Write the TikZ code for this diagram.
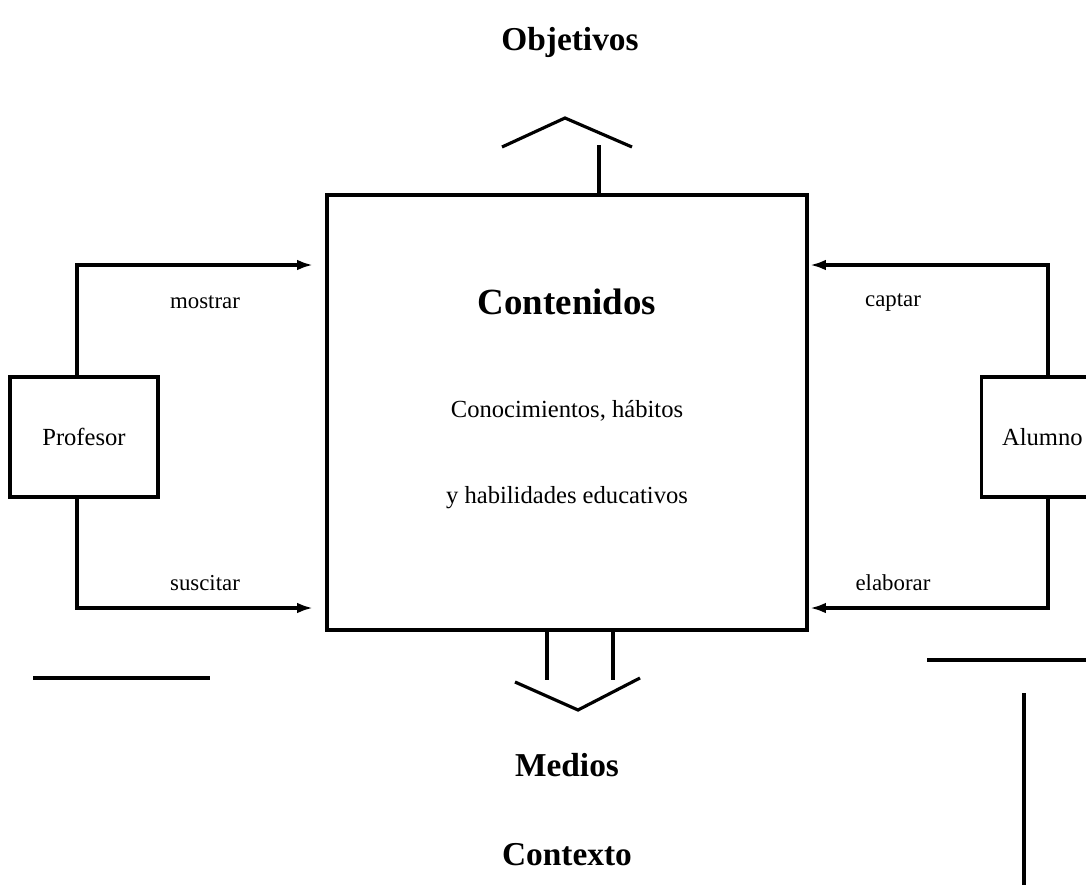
\documentclass[tikz,border=0pt]{standalone}
\usepackage{fontspec}
\setmainfont{Liberation Serif}
\usetikzlibrary{calc,positioning,arrows.meta}

\tikzset{
	caja/.style={draw,line width=1.8pt,inner sep=0pt},
	titulo/.style={font=\fontsize{19}{22}\selectfont\bfseries},
	verbo/.style={font=\fontsize{13}{15}\selectfont},
	flecha/.style={line width=1.8pt,-{Latex[length=9pt,width=6pt]}},
	linea/.style={line width=1.8pt}
}

\begin{document}
\begin{tikzpicture}[x=0.02cm,y=-0.02cm]
		\useasboundingbox (0,0) rectangle (1086,886);
		% bloque central
		\node[caja,minimum width=9.6cm,minimum height=8.7cm] (cont) at (567,412.5) {};
		\node[titulo,font=\fontsize{21}{24}\selectfont\bfseries] (tcont) at (567,302) {Contenidos};
		\node[font=\fontsize{14}{16}\selectfont] (conoc) at (567,411) {Conocimientos, hábitos};
		\node[font=\fontsize{14}{16}\selectfont] (habil) at (567,498) {y habilidades educativos};
		% objetivos y medios
		\node[titulo] (obj) at (570,42) {Objetivos};
		\node[titulo] (medios) at (567,765) {Medios};
		\node[titulo] (contexto) at (567,855) {Contexto};
		\coordinate (arr1) at (502,147);
		\coordinate (arr2) at (565,118);
		\coordinate (arr3) at (632,147);
		\draw[linea] (arr1) -- (arr2) -- (arr3);
		\draw[linea] (cont.north -| 599,0) -- (599,145);
		\coordinate (ab1) at (515,682);
		\coordinate (ab2) at (578,710);
		\coordinate (ab3) at (640,678);
		\draw[linea] (ab1) -- (ab2) -- (ab3);
		\draw[linea] (cont.south -| 547,0) -- (547,680);
		\draw[linea] (cont.south -| 613,0) -- (613,680);
		% profesor
		\node[caja,minimum width=2.96cm,minimum height=2.4cm,font=\fontsize{14}{16}\selectfont] (prof) at (84,437) {Profesor};
		\coordinate (pfin1) at (313,265);
		\coordinate (pfin2) at (313,608);
		\draw[flecha] (prof.north -| 77,0) |- (pfin1);
		\draw[flecha] (prof.south -| 77,0) |- (pfin2);
		\node[verbo] (mostrar) at (205,302) {mostrar};
		\node[verbo] (suscitar) at (205,583) {suscitar};
		% alumno
		\node[caja,minimum width=2.6cm,minimum height=2.4cm,anchor=west] (alum) at (980,437) {};
		\node[font=\fontsize{14}{16}\selectfont,anchor=east,inner sep=0pt] (talum) at (1083,437) {Alumno};
		\coordinate (afin1) at (810,265);
		\coordinate (afin2) at (810,608);
		\draw[flecha] (alum.north -| 1048,0) |- (afin1);
		\draw[flecha] (alum.south -| 1048,0) |- (afin2);
		\node[verbo] (captar) at (893,302) {captar};
		\node[verbo] (elaborar) at (893,583) {elaborar};
		% trazos sueltos
		\coordinate (l1) at (33,678);
		\coordinate (l2) at (210,678);
		\draw[linea] (l1) -- (l2);
		\coordinate (r1) at (927,660);
		\coordinate (r2) at (1086,660);
		\draw[linea] (r1) -- (r2);
		\coordinate (v1) at (1024,693);
		\coordinate (v2) at (1024,885);
		\draw[linea] (v1) -- (v2);
	\end{tikzpicture}
\end{document}
